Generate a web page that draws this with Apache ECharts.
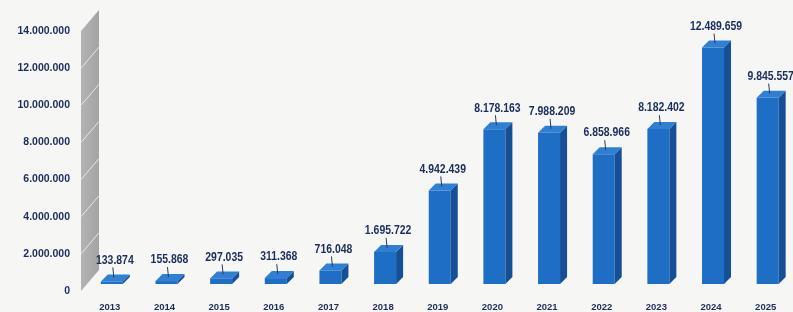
<!DOCTYPE html>
<html>
<head>
<meta charset="utf-8">
<script src="https://cdn.jsdelivr.net/npm/echarts@6/dist/echarts.min.js"></script>
<style>
  html, body { margin: 0; padding: 0; background: #f6f6f4; }
  #chart { width: 793px; height: 312px; }
</style>
</head>
<body>
<div id="chart"></div>
<script>
// chart data
var years = ['2013', '2014', '2015', '2016', '2017', '2018', '2019', '2020', '2021', '2022', '2023', '2024', '2025'];
var values = [133874, 155868, 297035, 311368, 716048, 1695722, 4942439, 8178163, 7988209, 6858966, 8182402, 12489659, 9845557];
var yTicks = [0, 2000000, 4000000, 6000000, 8000000, 10000000, 12000000, 14000000];

function dots(v) {
    return String(v).replace(/\B(?=(\d{3})+(?!\d))/g, '.');
}

var labelColor = '#1b2d5c';

// draws one 3d looking box + its value label
function renderBar(params, api) {
    var idx = api.value(0);
    var v = api.value(1);
    var top = api.coord([idx, v]);
    var base = api.coord([idx, 0]);
    var w = 22, dx = 7, dy = 7;
    var cx = top[0] + 2;
    var l = cx - w / 2, r = cx + w / 2;
    return {
        type: 'group',
        children: [
            {
                type: 'rect',
                shape: { x: l, y: top[1], width: w, height: base[1] - top[1] },
                style: { fill: '#1f6ec6' }
            },
            {
                type: 'polygon',
                shape: { points: [[r, top[1]], [r + dx, top[1] - dy], [r + dx, base[1] - dy], [r, base[1]]] },
                style: { fill: '#174f96' }
            },
            {
                type: 'polygon',
                shape: { points: [[l, top[1]], [l + dx, top[1] - dy], [r + dx, top[1] - dy], [r, top[1]]] },
                style: { fill: '#2f7fd3' }
            },
            {
                type: 'line',
                shape: { x1: cx + 1, y1: top[1] - dy - 7, x2: cx + 2, y2: top[1] - dy + 3 },
                style: { stroke: '#2b3a5e', lineWidth: 1 }
            },
            {
                type: 'text',
                x: cx + 3,
                y: top[1] - dy - 14,
                scaleX: 0.87,
                style: {
                    text: dots(v),
                    fill: labelColor,
                    font: 'bold 12px "Liberation Sans", Arial, sans-serif',
                    textAlign: 'center',
                    textVerticalAlign: 'middle'
                }
            }
        ]
    };
}

var myChart = echarts.init(document.getElementById('chart'));

var option = {
    backgroundColor: '#f6f6f4',
    animation: false,
    grid: [
        { left: 82.5, right: -3.5, top: 31, bottom: 19 },
        { left: 82.5, right: -3.5, top: 19, bottom: 28 }
    ],
    xAxis: [
        {
            type: 'category',
            gridIndex: 0,
            data: years,
            axisLine: { show: false },
            axisTick: { show: false },
            axisLabel: {
                margin: 11,
                color: labelColor,
                fontSize: 9.5,
                fontWeight: 'bold',
                fontFamily: '"Liberation Sans", sans-serif'
            }
        },
        {
            type: 'category',
            gridIndex: 1,
            data: years,
            show: false
        }
    ],
    yAxis: [
        {
            type: 'value',
            gridIndex: 0,
            min: 0,
            max: 14000000,
            interval: 2000000,
            axisLine: { show: false },
            axisTick: { show: false },
            splitLine: { show: false },
            axisLabel: {
                margin: 12.5,
                color: labelColor,
                fontSize: 10.5,
                fontWeight: 'bold',
                fontFamily: '"Liberation Sans", sans-serif',
                formatter: function (v) { return dots(v); }
            }
        },
        {
            type: 'value',
            gridIndex: 1,
            min: 0,
            max: 14000000,
            show: false
        }
    ],
    series: [
        {
            type: 'custom',
            xAxisIndex: 1,
            yAxisIndex: 1,
            renderItem: renderBar,
            data: values.map(function (v, i) { return [i, v]; })
        }
    ]
};

myChart.setOption(option);

// grey side wall with white grid lines at the tick values
var wallX0 = 81, wallX1 = 99, lift = 21;
var p0 = myChart.convertToPixel({ yAxisIndex: 0 }, 0);
var pTop = myChart.convertToPixel({ yAxisIndex: 0 }, 14000000);
var wall = [
    {
        type: 'polygon',
        z: -1,
        shape: { points: [[wallX0, pTop], [wallX1, pTop - lift], [wallX1, p0 - lift], [wallX0, p0]] },
        style: {
            fill: new echarts.graphic.LinearGradient(0, 0, 1, 0, [
                { offset: 0, color: '#b3b3b3' },
                { offset: 1, color: '#a4a4a4' }
            ])
        }
    }
];
yTicks.forEach(function (t) {
    if (t === 0 || t === 14000000) return;
    var py = myChart.convertToPixel({ yAxisIndex: 0 }, t);
    wall.push({
        type: 'line',
        z: -1,
        shape: { x1: wallX0, y1: py, x2: wallX1, y2: py - lift },
        style: { stroke: '#e4e8ee', lineWidth: 1 }
    });
});
myChart.setOption({ graphic: wall });
</script>
</body>
</html>
